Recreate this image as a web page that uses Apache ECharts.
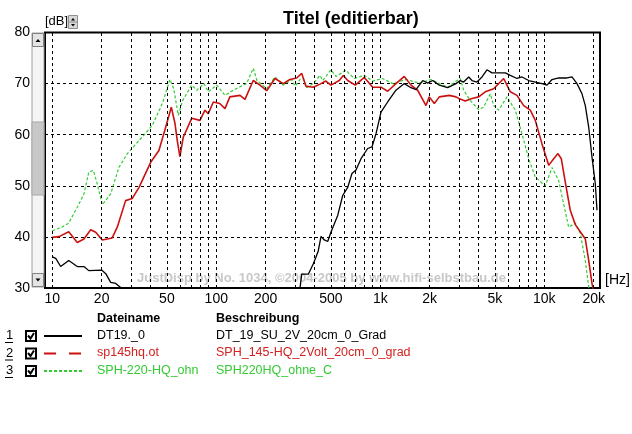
<!DOCTYPE html>
<html><head><meta charset="utf-8">
<script src="https://cdn.jsdelivr.net/npm/echarts@6/dist/echarts.min.js"></script>
<style>html,body{margin:0;padding:0;background:#fff}#c{width:632px;height:434px}</style>
</head><body><div id="c"></div>
<script>
// ---- data ----
const xMinHz = 9.03, xMaxHz = 21860;
const yMin = 30, yMax = 80;
const xTickFreqs = [10, 20, 50, 100, 200, 500, 1000, 2000, 5000, 10000, 20000];
const xTickLabels = ['10', '20', '50', '100', '200', '500', '1k', '2k', '5k', '10k', '20k'];
const gridFreqs = [10,20,30,40,50,60,70,80,90,100,200,300,400,500,600,700,800,900,1000,2000,3000,4000,5000,6000,7000,8000,9000,10000,20000];

const blackFreq = [10,10.5,11.25,12.6,14.2,15.6,16.7,20,21.2,22.7,24.4,26.1,28,31,300,324,332,364,390,405,419,435,456,478,500,550,590,633,672,711,763,838,890,942,1010,1109,1246,1401,1539,1651,1814,1946,2087,2290,2576,2894,3074,3224,3459,3623,3886,4170,4473,4798,5146,5783,6204,6815,7311,8034,8813,9683,10387,11143,12240,13751,14751,15827,16977,17783,18652,19537,20464,20958];
const blackDb = [36.1,35.8,34.2,35.4,34.2,34.2,33.4,33.5,32.8,31.1,30.9,30.1,28.5,26,26,30,32.7,32.7,34.7,36,37.3,40.1,39.4,39.1,40.9,44.2,48.1,49.7,52.4,53.1,55.3,57.3,57.6,60.2,64.4,66.4,68.7,70,69.2,68.8,70.6,70.1,70.6,69.7,69.2,70,70.6,70.3,71.3,70.6,70.3,71.3,72.7,72.1,72.1,72.1,71.6,71,71.3,70.6,70.3,70,69.7,70.8,71.1,71.1,71.3,70,68,65.7,61.5,55.6,50.4,45.2];

const redFreq = [10,11,12.6,14.2,15.6,17.15,18.4,20.2,23.2,24.9,28,30.7,33.8,39.8,44.7,49.2,53.2,56,57.8,60,62.9,70.8,79.5,85.3,89.4,95.9,105,113,121,139.5,149.6,168,184.7,203,228,256,281,309,332,352,390,429,466,500,562,595,633,704,799,899,1010,1109,1246,1401,1539,1690,1900,1990,2134,2290,2634,2894,3006,3298,3623,3981,4368,4914,5655,6204,6815,7489,8215,8813,9683,10637,11411,12119,12694,13428,14402,15453,16577,17783,18652,19537,20400];
const redDb = [39.9,40.05,41,38.9,39.6,41.4,40.9,39.4,39.8,41.9,47.1,47.5,49.7,54.6,56.9,61.5,65.4,62.2,58.9,55.7,59.5,63.2,62.8,64.8,64.1,66.4,66.1,65.1,67.4,67.7,66.9,70.6,69.7,68.6,71,70,70.8,71.1,72,69.5,69.3,69.9,70.5,69.7,70.6,71.6,70.6,69.7,71.2,69.3,69.3,68.5,70,71.4,69.7,68.7,65.7,67.4,66.1,67.4,67.7,67.4,67.1,66.6,67.1,67.4,68.4,69,71,68.4,67.7,65.7,64.8,62.8,58.2,54,55.3,56.3,55.3,50.7,45.2,42.4,41,39.6,35.4,30.9,28];

const greenFreq = [10,11.25,12.6,14.2,15.6,16.7,17.8,18.8,20.2,22.7,25.5,28.7,36.2,40.7,46.9,52.2,55,58.7,62.4,70.8,76,84.1,89.4,100.6,113,126.9,146.1,153,168.1,177,203,228,256,288,302,324,340,355,390,429,446,500,537,618,694,799,899,1034,1190,1435,1729,2038,2290,2576,2935,3074,3224,3538,3981,4271,4685,4914,5272,5923,6655,7311,8034,8813,10141,11143,12240,13129,14083,15453,16577,17783,18652,19200];
const greenDb = [41.2,41.8,42.7,45.8,48.4,52.7,53,50.4,46.3,48.4,53.6,56.3,59.9,61.8,66.1,70.8,69,63.8,66.7,69.7,68.7,70,68.4,69.7,67.7,68.7,69.7,70,73,70.6,69,71.3,69.7,70.8,69.5,70.8,71,69.2,70,71.6,70.6,72.7,71.4,72.6,71,71.6,70.5,71,70,70.8,70.1,70.8,70,69.3,70.6,71,68.7,66.7,64.9,65.4,68,65.7,64.8,67.4,64.8,60.2,55.3,51.7,50,53.6,51,46.4,41.9,42.7,40.7,35.4,30.2,27];

const legendNums = ['1', '2', '3'];
const legendNames = ['DT19._0', 'sp145hq.ot', 'SPH-220-HQ_ohn'];
const legendDescs = ['DT_19_SU_2V_20cm_0_Grad', 'SPH_145-HQ_2Volt_20cm_0_grad', 'SPH220HQ_ohne_C'];
const titleText = 'Titel (editierbar)';
const watermark = 'JustDisp by No. 1034, \u00A92004-2005 by www.hifi-selbstbau.de';

// ---- styling ----
const FONT = '"Liberation Sans", Arial, sans-serif';
const colors = ['#000000', '#cc1111', '#33cc33'];
const textColors = ['#000000', '#d42020', '#33cc33'];
const lineTypes = ['solid', 'solid', [3, 2]];
const lineWidths = [1.3, 1.6, 1.2];
const legendDash = ['solid', [12, 13], [3, 2]];

const L = Math.log10;
function pairs(fs, ds) { return fs.map((f, i) => [L(f), ds[i]]); }

const chart = echarts.init(document.getElementById('c'), null, {renderer: 'canvas'});

const graphics = [];
// watermark
graphics.push({type: 'text', left: 137, top: 272, silent: true, z: 1,
  style: {text: watermark, fill: '#c8c8c8', font: 'bold 13px ' + FONT}});
// [dB], [Hz]
graphics.push({type: 'text', left: 45, top: 15, style: {text: '[dB]', fill: '#000', font: '13px ' + FONT}});
graphics.push({type: 'text', left: 605, top: 273, style: {text: '[Hz]', fill: '#000', font: '14px ' + FONT}});
// spinner next to [dB]
graphics.push({type: 'rect', shape: {x: 68.5, y: 15.5, width: 9, height: 13}, style: {fill: '#d8d8d8', stroke: '#909090', lineWidth: 1}});
graphics.push({type: 'line', shape: {x1: 68.5, y1: 22, x2: 77.5, y2: 22}, style: {stroke: '#909090', lineWidth: 1}});
graphics.push({type: 'polygon', shape: {points: [[71, 20.5], [75, 20.5], [73, 18]]}, style: {fill: '#000'}});
graphics.push({type: 'polygon', shape: {points: [[71, 24], [75, 24], [73, 26.5]]}, style: {fill: '#000'}});
// scrollbar
graphics.push({type: 'rect', shape: {x: 32, y: 33, width: 12, height: 254}, style: {fill: '#f4f4f4', stroke: '#a0a0a0', lineWidth: 1}});
graphics.push({type: 'rect', shape: {x: 32, y: 122, width: 12, height: 73}, style: {fill: '#c8c8c8', stroke: '#a8a8a8', lineWidth: 1}});
graphics.push({type: 'rect', shape: {x: 32.5, y: 33.5, width: 11, height: 13}, style: {fill: '#e4e4e4', stroke: '#808080', lineWidth: 1}});
graphics.push({type: 'rect', shape: {x: 32.5, y: 273.5, width: 11, height: 13}, style: {fill: '#e4e4e4', stroke: '#808080', lineWidth: 1}});
graphics.push({type: 'polygon', shape: {points: [[35.5, 42], [40.5, 42], [38, 39]]}, style: {fill: '#000'}});
graphics.push({type: 'polygon', shape: {points: [[35.5, 278.5], [40.5, 278.5], [38, 281.5]]}, style: {fill: '#000'}});
// legend table
graphics.push({type: 'text', left: 97, top: 312, style: {text: 'Dateiname', fill: '#000', font: 'bold 12.5px ' + FONT}});
graphics.push({type: 'text', left: 216, top: 312, style: {text: 'Beschreibung', fill: '#000', font: 'bold 12.5px ' + FONT}});
const rowY = [336, 353.5, 371];
legendNames.forEach((n, i) => {
  const y = rowY[i];
  graphics.push({type: 'text', left: 6, top: y - 7, style: {text: legendNums[i], fill: '#000', font: '13px ' + FONT}});
  graphics.push({type: 'line', shape: {x1: 5, y1: y + 6.5, x2: 13, y2: y + 6.5}, style: {stroke: '#000', lineWidth: 1}});
  graphics.push({type: 'rect', shape: {x: 26, y: y - 5, width: 10, height: 10}, style: {fill: '#fff', stroke: '#000', lineWidth: 2}});
  graphics.push({type: 'polyline', shape: {points: [[28, y - 0.5], [30.5, y + 2.5], [34, y - 3]]}, style: {stroke: '#000', lineWidth: 2, fill: null}});
  graphics.push({type: 'line', shape: {x1: 44, y1: y, x2: 82, y2: y}, style: {stroke: colors[i], lineWidth: 2, lineDash: legendDash[i] === 'solid' ? null : legendDash[i]}});
  graphics.push({type: 'text', left: 97, top: y - 7, style: {text: n, fill: textColors[i], font: '12.5px ' + FONT}});
  graphics.push({type: 'text', left: 216, top: y - 7, style: {text: legendDescs[i], fill: textColors[i], font: '12.5px ' + FONT}});
});

const seriesData = [pairs(blackFreq, blackDb), pairs(redFreq, redDb), pairs(greenFreq, greenDb)];

chart.setOption({
  animation: false,
  backgroundColor: '#fff',
  title: {text: titleText, left: 278, top: 5,
    textStyle: {fontFamily: FONT, fontSize: 18, fontWeight: 'bold', color: '#000'}},
  grid: {left: 45, top: 32.5, width: 555, height: 255.5, show: true, borderColor: '#000', borderWidth: 2, backgroundColor: '#fff'},
  xAxis: {type: 'value', min: L(xMinHz), max: L(xMaxHz),
    axisLine: {show: false}, axisTick: {show: false}, splitLine: {show: false},
    axisLabel: {customValues: xTickFreqs.map(L), hideOverlap: false, margin: 4, fontSize: 14, fontFamily: FONT, color: '#000',
      formatter: function (v) {
        let best = 0, bd = 1e9;
        xTickFreqs.forEach((f, i) => { const d = Math.abs(L(f) - v); if (d < bd) { bd = d; best = i; } });
        return xTickLabels[best];
      }}},
  yAxis: {type: 'value', min: yMin, max: yMax, interval: 10,
    axisLine: {show: false}, axisTick: {show: false},
    splitLine: {show: true, lineStyle: {color: '#000', type: [3, 3], width: 1}},
    axisLabel: {margin: 15, fontSize: 14, fontFamily: FONT, color: '#000'}},
  graphic: graphics,
  series: [
    {type: 'line', name: 'grid', data: [], z: 1, silent: true,
      markLine: {silent: true, symbol: ['none', 'none'], label: {show: false},
        lineStyle: {color: '#000', type: [3, 3], width: 1},
        data: gridFreqs.map(f => ({xAxis: L(f)}))}},
    ...legendNames.map((n, i) => ({
      type: 'line', name: n, data: seriesData[i], showSymbol: false, symbol: 'none', z: 3 + (2 - i),
      clip: true, lineStyle: {color: colors[i], width: lineWidths[i], type: lineTypes[i]}
    }))
  ]
});
</script>
</body></html>
